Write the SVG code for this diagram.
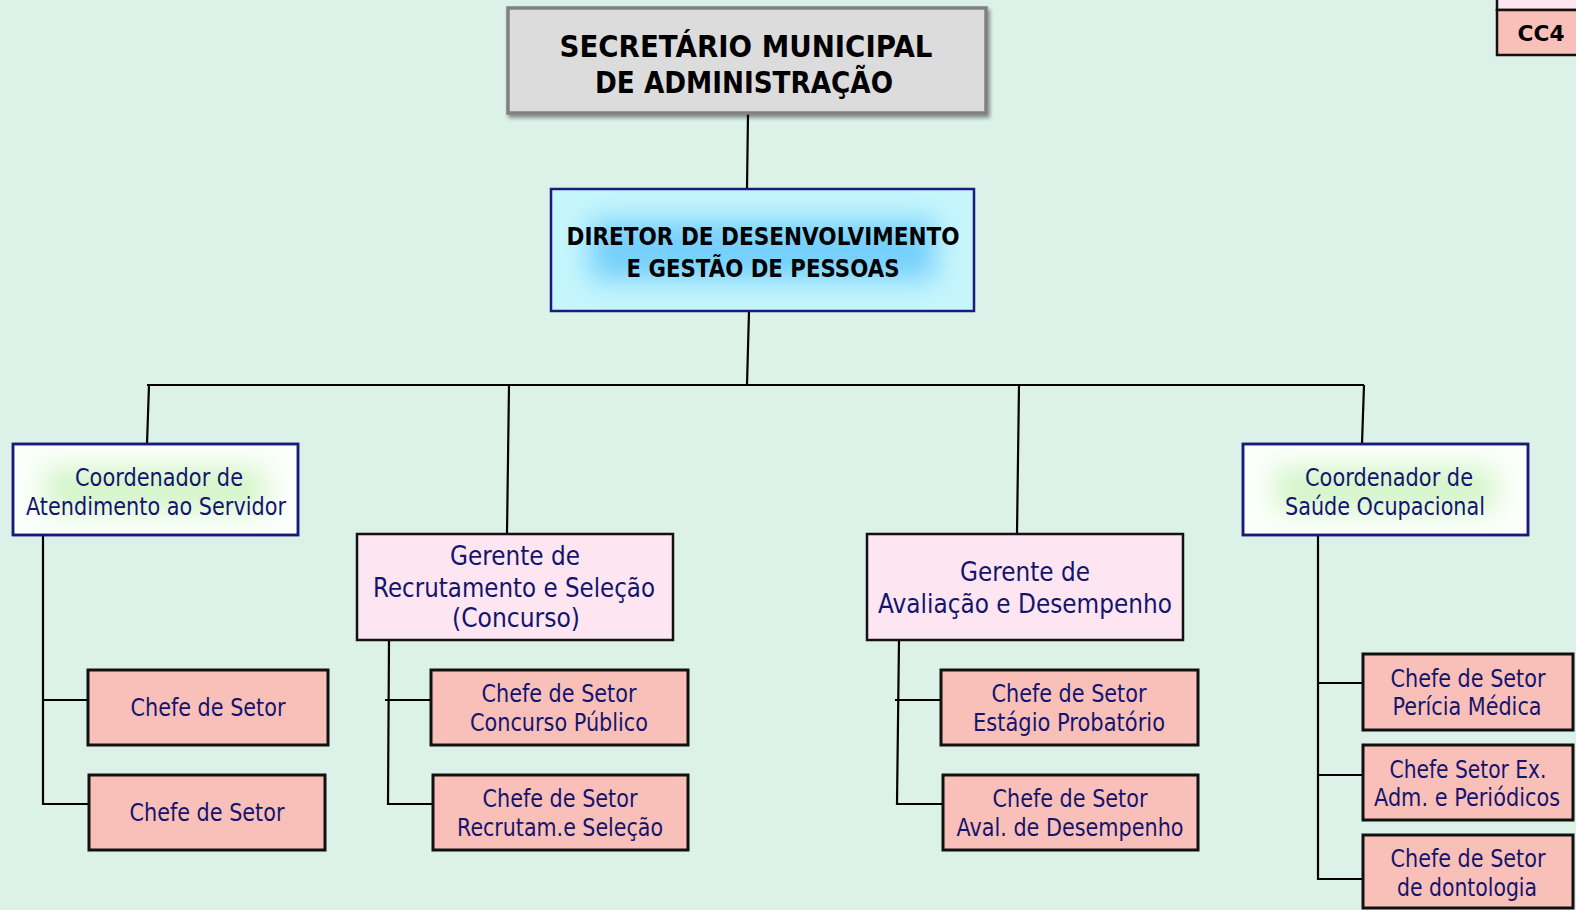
<svg xmlns="http://www.w3.org/2000/svg" width="1576" height="910" viewBox="0 0 1576 910">
<defs>
<filter id="blur" x="-20%" y="-50%" width="140%" height="200%"><feGaussianBlur stdDeviation="14"/></filter>
<filter id="shadow" x="-5%" y="-10%" width="115%" height="130%"><feGaussianBlur in="SourceAlpha" stdDeviation="2"/><feOffset dx="2" dy="3"/><feComponentTransfer><feFuncA type="linear" slope="0.45"/></feComponentTransfer><feMerge><feMergeNode/><feMergeNode in="SourceGraphic"/></feMerge></filter>
<clipPath id="cDir"><rect x="552" y="190" width="421" height="120"/></clipPath>
<clipPath id="cCo1"><rect x="14" y="445" width="283" height="89"/></clipPath>
<clipPath id="cCo2"><rect x="1244" y="445" width="283" height="89"/></clipPath>
</defs>
<style>
.t{font-family:"DejaVu Sans","Liberation Sans",sans-serif;fill:#14146e;text-anchor:middle}
.b{font-family:"DejaVu Sans","Liberation Sans",sans-serif;font-weight:bold;fill:#000;text-anchor:middle}
.chefe{fill:#f8c0b8;stroke:#111;stroke-width:3}
.ger{fill:#fde6f2;stroke:#111;stroke-width:2.5}
.coord{fill:#fbfffb;stroke:#1a1a78;stroke-width:2.5}
.ln{stroke:#000;stroke-width:2.2;fill:none}
.s24{font-size:24px}
.s27{font-size:27px}
</style>
<rect width="1576" height="910" fill="#dcf2e8"/>

<g id="connectors">
<path class="ln" d="M748 114 L747 189"/>
<path class="ln" d="M749 311 L747 385"/>
<path class="ln" d="M147 385 L1364 385"/>
<path class="ln" d="M149 385 L147 444"/>
<path class="ln" d="M509 385 L507 534"/>
<path class="ln" d="M1019 385 L1017 534"/>
<path class="ln" d="M1364 385 L1362 444"/>
<path class="ln" d="M43 535 L43 804 L89 804 M43 700 L88 700"/>
<path class="ln" d="M389 640 L388 804 L433 804 M385 700 L431 700"/>
<path class="ln" d="M899 640 L897 804 L943 804 M895 700 L941 700"/>
<path class="ln" d="M1318 535 L1318 879 L1363 879 M1318 683 L1363 683 M1318 775 L1363 775"/>
</g>

<g id="secretario">
<rect x="508" y="8" width="478" height="105" fill="#dcdcdc" stroke="#808080" stroke-width="3.5" filter="url(#shadow)"/>
<text class="b" x="746" y="57" font-size="30" textLength="373" lengthAdjust="spacingAndGlyphs">SECRETÁRIO MUNICIPAL</text>
<text class="b" x="744" y="93" font-size="30" textLength="298" lengthAdjust="spacingAndGlyphs">DE ADMINISTRAÇÃO</text>
</g>

<g id="cc4">
<rect x="1497" y="-5" width="85" height="15" fill="#fde6f2" stroke="#111" stroke-width="2.5"/>
<rect x="1497" y="10" width="85" height="45" fill="#f8c0b8" stroke="#111" stroke-width="2.5"/>
<text class="b" x="1541" y="41" font-size="21" textLength="47" lengthAdjust="spacingAndGlyphs">CC4</text>
</g>

<g id="diretor">
<rect x="551" y="189" width="423" height="122" fill="#c6f6fc"/>
<g clip-path="url(#cDir)"><rect x="590" y="220" width="345" height="60" fill="#74cffb" filter="url(#blur)"/></g>
<rect x="551" y="189" width="423" height="122" fill="none" stroke="#1a1a80" stroke-width="2.5"/>
<text class="b" x="763" y="245" font-size="25" textLength="393" lengthAdjust="spacingAndGlyphs">DIRETOR DE DESENVOLVIMENTO</text>
<text class="b" x="763" y="277" font-size="25" textLength="273" lengthAdjust="spacingAndGlyphs">E GESTÃO DE PESSOAS</text>
</g>

<g id="coord-atendimento">
<rect class="coord" x="13" y="444" width="285" height="91"/>
<g clip-path="url(#cCo1)"><rect x="45" y="468" width="220" height="42" fill="#d2f4c6" filter="url(#blur)"/></g>
<rect x="13" y="444" width="285" height="91" fill="none" stroke="#1a1a78" stroke-width="2.5"/>
<text class="t s24" x="159" y="486" textLength="168" lengthAdjust="spacingAndGlyphs">Coordenador de</text>
<text class="t s24" x="156" y="515" textLength="260" lengthAdjust="spacingAndGlyphs">Atendimento ao Servidor</text>
</g>

<g id="coord-saude">
<rect class="coord" x="1243" y="444" width="285" height="91"/>
<g clip-path="url(#cCo2)"><rect x="1275" y="468" width="220" height="42" fill="#d2f4c6" filter="url(#blur)"/></g>
<rect x="1243" y="444" width="285" height="91" fill="none" stroke="#1a1a78" stroke-width="2.5"/>
<text class="t s24" x="1389" y="486" textLength="168" lengthAdjust="spacingAndGlyphs">Coordenador de</text>
<text class="t s24" x="1385" y="515" textLength="200" lengthAdjust="spacingAndGlyphs">Saúde Ocupacional</text>
</g>

<g id="ger-recrutamento">
<rect class="ger" x="357" y="534" width="316" height="106"/>
<text class="t s27" x="515" y="565" textLength="130" lengthAdjust="spacingAndGlyphs">Gerente de</text>
<text class="t s27" x="514" y="597" textLength="282" lengthAdjust="spacingAndGlyphs">Recrutamento e Seleção</text>
<text class="t s27" x="516" y="627" textLength="128" lengthAdjust="spacingAndGlyphs">(Concurso)</text>
</g>

<g id="ger-avaliacao">
<rect class="ger" x="867" y="534" width="316" height="106"/>
<text class="t s27" x="1025" y="581" textLength="130" lengthAdjust="spacingAndGlyphs">Gerente de</text>
<text class="t s27" x="1025" y="613" textLength="294" lengthAdjust="spacingAndGlyphs">Avaliação e Desempenho</text>
</g>

<g id="chefe-at-1">
<rect class="chefe" x="88" y="670" width="240" height="75"/>
<text class="t s24" x="208" y="716" textLength="155" lengthAdjust="spacingAndGlyphs">Chefe de Setor</text>
</g>
<g id="chefe-at-2">
<rect class="chefe" x="89" y="775" width="236" height="75"/>
<text class="t s24" x="207" y="821" textLength="155" lengthAdjust="spacingAndGlyphs">Chefe de Setor</text>
</g>

<g id="chefe-concurso">
<rect class="chefe" x="431" y="670" width="257" height="75"/>
<text class="t s24" x="559" y="702" textLength="155" lengthAdjust="spacingAndGlyphs">Chefe de Setor</text>
<text class="t s24" x="559" y="731" textLength="178" lengthAdjust="spacingAndGlyphs">Concurso Público</text>
</g>
<g id="chefe-recrutam">
<rect class="chefe" x="433" y="775" width="255" height="75"/>
<text class="t s24" x="560" y="807" textLength="155" lengthAdjust="spacingAndGlyphs">Chefe de Setor</text>
<text class="t s24" x="560" y="836" textLength="206" lengthAdjust="spacingAndGlyphs">Recrutam.e Seleção</text>
</g>

<g id="chefe-estagio">
<rect class="chefe" x="941" y="670" width="257" height="75"/>
<text class="t s24" x="1069" y="702" textLength="155" lengthAdjust="spacingAndGlyphs">Chefe de Setor</text>
<text class="t s24" x="1069" y="731" textLength="192" lengthAdjust="spacingAndGlyphs">Estágio Probatório</text>
</g>
<g id="chefe-aval">
<rect class="chefe" x="943" y="775" width="255" height="75"/>
<text class="t s24" x="1070" y="807" textLength="155" lengthAdjust="spacingAndGlyphs">Chefe de Setor</text>
<text class="t s24" x="1070" y="836" textLength="227" lengthAdjust="spacingAndGlyphs">Aval. de Desempenho</text>
</g>

<g id="chefe-pericia">
<rect class="chefe" x="1363" y="654" width="210" height="76"/>
<text class="t s24" x="1468" y="687" textLength="155" lengthAdjust="spacingAndGlyphs">Chefe de Setor</text>
<text class="t s24" x="1467" y="715" textLength="149" lengthAdjust="spacingAndGlyphs">Perícia Médica</text>
</g>
<g id="chefe-exames">
<rect class="chefe" x="1363" y="745" width="210" height="75"/>
<text class="t s24" x="1468" y="778" textLength="157" lengthAdjust="spacingAndGlyphs">Chefe Setor Ex.</text>
<text class="t s24" x="1467" y="806" textLength="186" lengthAdjust="spacingAndGlyphs">Adm. e Periódicos</text>
</g>
<g id="chefe-odonto">
<rect class="chefe" x="1363" y="835" width="210" height="73"/>
<text class="t s24" x="1468" y="867" textLength="155" lengthAdjust="spacingAndGlyphs">Chefe de Setor</text>
<text class="t s24" x="1467" y="896" textLength="140" lengthAdjust="spacingAndGlyphs">de dontologia</text>
</g>
</svg>
